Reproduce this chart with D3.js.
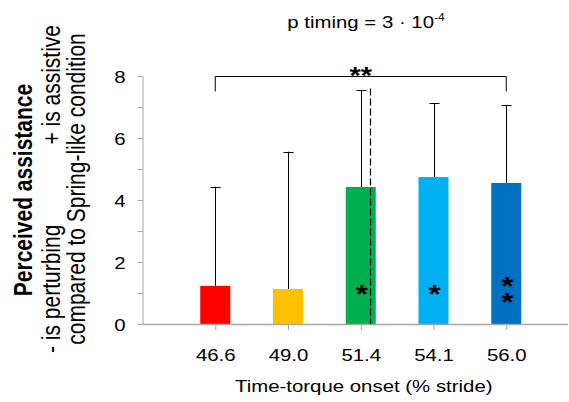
<!DOCTYPE html>
<html>

<head>
  <meta charset="utf-8">
  <style type="text/css">
    body {
      margin: 0;
      font-family: "Liberation Sans", Arial, sans-serif;
    }
    svg text {
      fill: #000;
    }
  </style>
  <title>Perceived assistance</title>
</head>

<body>
  <script src="https://cdn.jsdelivr.net/npm/d3@7"></script>
  <script>
    // values
    var onsets = ["46.6", "49.0", "51.4", "54.1", "56.0"];
    var means = [1.23, 1.13, 4.42, 4.74, 4.55];
    var upperBars = [4.43, 5.56, 7.55, 7.12, 7.07];   // top of the error bars
    var barColors = ["#ff0000", "#ffc000", "#00b050", "#00b0f0", "#0070c0"];
    var barStars = [0, 0, 1, 1, 2];                    // number of * inside each bar
    var yTicks = [0, 2, 4, 6, 8];
    var yMinor = [1, 3, 5, 7];
    var springOnset = 3.13;                            // dashed line, in category units
    var bracketEnds = [1, 5];
    var bracketLevel = 8;

    var width = 569,
      height = 402;

    var x = d3.scaleLinear()
      .domain([0, 6])
      .range([142.5, 579]);

    var y = d3.scaleLinear()
      .domain([0, 8])
      .range([324, 76]);

    var sx = 1.2; // the source picture is stretched horizontally
    var barW = 30;

    var svg = d3.select("body").append("svg")
      .attr("width", width)
      .attr("height", height);

    // title
    var title = svg.append("text")
      .attr("transform", "translate(366,28) scale(" + sx + ",1)")
      .attr("text-anchor", "middle")
      .style("font-size", "17px");
    title.append("tspan").text("p timing = 3 · 10");
    title.append("tspan")
      .attr("dy", -7)
      .style("font-size", "10px")
      .text("-4");

    // bars
    var idx = d3.range(onsets.length);

    svg.selectAll(".bar")
      .data(idx)
      .enter().append("rect")
      .attr("class", "bar")
      .attr("x", i => x(i + 1) - barW / 2)
      .attr("width", barW)
      .attr("y", i => y(means[i]))
      .attr("height", i => y(0) - y(means[i]))
      .attr("fill", i => barColors[i]);

    // error bars (upper only)
    var err = svg.selectAll(".err")
      .data(idx)
      .enter().append("g")
      .attr("class", "err")
      .attr("stroke", "#000")
      .attr("stroke-width", 1);

    err.append("line")
      .attr("x1", i => Math.round(x(i + 1)) + 0.5)
      .attr("x2", i => Math.round(x(i + 1)) + 0.5)
      .attr("y1", i => y(means[i]))
      .attr("y2", i => y(upperBars[i]));

    err.append("line")
      .attr("x1", i => Math.round(x(i + 1)) + 0.5 - 5)
      .attr("x2", i => Math.round(x(i + 1)) + 0.5 + 5)
      .attr("y1", i => Math.round(y(upperBars[i])) + 0.5)
      .attr("y2", i => Math.round(y(upperBars[i])) + 0.5);

    // dashed marker
    svg.append("line")
      .attr("x1", Math.round(x(springOnset)) + 0.5)
      .attr("x2", Math.round(x(springOnset)) + 0.5)
      .attr("y1", y(7.6))
      .attr("y2", y(0))
      .attr("stroke", "#000")
      .attr("stroke-width", 1.2)
      .attr("stroke-dasharray", "7,3");

    // axes
    var yAxis = d3.axisLeft(y)
      .tickValues(yTicks)
      .tickSize(5)
      .tickPadding(10);

    var gy = svg.append("g")
      .attr("transform", "translate(" + x(0) + ",0)")
      .call(yAxis);
    gy.select(".domain").attr("d", "M0.5," + y(8) + "V" + y(0) + "H0");
    gy.selectAll(".tick line").attr("stroke", "#a6a6a6");
    gy.select(".domain").attr("stroke", "#a6a6a6");
    gy.selectAll(".tick text")
      .attr("x", null)
      .attr("dy", null)
      .attr("transform", "translate(-17,6) scale(" + sx + ",1)")
      .style("font-size", "17px")
      .style("font-family", "Liberation Sans, Arial, sans-serif");

    svg.append("g")
      .attr("transform", "translate(" + x(0) + ",0)")
      .selectAll("line")
      .data(yMinor)
      .enter().append("line")
      .attr("x1", -5)
      .attr("x2", 0)
      .attr("y1", d => Math.round(y(d)) + 0.5)
      .attr("y2", d => Math.round(y(d)) + 0.5)
      .attr("stroke", "#a6a6a6");

    var xAxis = d3.axisBottom(x)
      .tickValues(idx.map(i => i + 1))
      .tickFormat(d => onsets[d - 1])
      .tickSize(6);

    var gx = svg.append("g")
      .attr("transform", "translate(0," + y(0) + ")")
      .call(xAxis);
    gx.select(".domain")
      .attr("d", "M" + x(0) + ",0.5H568")
      .attr("stroke", "#a6a6a6")
      .attr("stroke-width", 1.5);
    gx.selectAll(".tick line").attr("stroke", "#a6a6a6");
    gx.selectAll(".tick text")
      .attr("y", null)
      .attr("dy", null)
      .attr("transform", "translate(0,37) scale(" + sx + ",1)")
      .style("font-size", "17px")
      .style("font-family", "Liberation Sans, Arial, sans-serif");

    svg.append("text")
      .attr("transform", "translate(" + (x(3) + 3) + ",392) scale(" + sx + ",1)")
      .attr("text-anchor", "middle")
      .style("font-size", "17px")
      .text("Time-torque onset (% stride)");

    // y title, three rotated lines (stretched across like the rest)
    var yt = svg.append("g")
      .attr("transform", "rotate(-90) scale(1," + sx + ")")
      .style("font-size", "21px");
    yt.append("text")
      .attr("x", -190)
      .attr("y", 32 / sx)
      .attr("text-anchor", "middle")
      .style("font-weight", "bold")
      .text("Perceived assistance");
    yt.append("text")
      .attr("x", -353)
      .attr("y", 60 / sx)
      .attr("text-anchor", "start")
      .text("- is perturbing");
    yt.append("text")
      .attr("x", -25)
      .attr("y", 60 / sx)
      .attr("text-anchor", "end")
      .text("+ is assistive");
    yt.append("text")
      .attr("x", -189)
      .attr("y", 85 / sx)
      .attr("text-anchor", "middle")
      .text("compared to Spring-like condition");

    // significance bracket
    var by = Math.round(y(bracketLevel)) + 0.5;
    svg.append("path")
      .attr("d", "M" + x(bracketEnds[0]) + "," + (by + 15) + "V" + by +
        "H" + x(bracketEnds[1]) + "V" + (by + 15))
      .attr("fill", "none")
      .attr("stroke", "#000")
      .attr("stroke-width", 1);

    svg.append("text")
      .attr("transform", "translate(" + (x(3) + 0) + "," + (by + 7) + ") scale(" + sx + ",1)")
      .attr("text-anchor", "middle")
      .style("font-size", "24px")
      .style("font-weight", "bold")
      .text("**");

    // stars inside the bars, stacked in one text when there are two
    idx.filter(i => barStars[i] > 0).forEach(function (i) {
      var top = barStars[i] == 1 ? 289 : 281;
      var t = svg.append("text")
        .attr("transform", "translate(" + (x(i + 1) + 1) + "," + (top + 14) + ") scale(" + sx + ",1)")
        .attr("text-anchor", "middle")
        .style("font-size", "26px")
        .style("font-weight", "bold");
      d3.range(barStars[i]).forEach(function (k) {
        t.append("tspan")
          .attr("x", 0)
          .attr("dy", k == 0 ? 0 : 16)
          .text("*");
      });
    });
  </script>
</body>

</html>
